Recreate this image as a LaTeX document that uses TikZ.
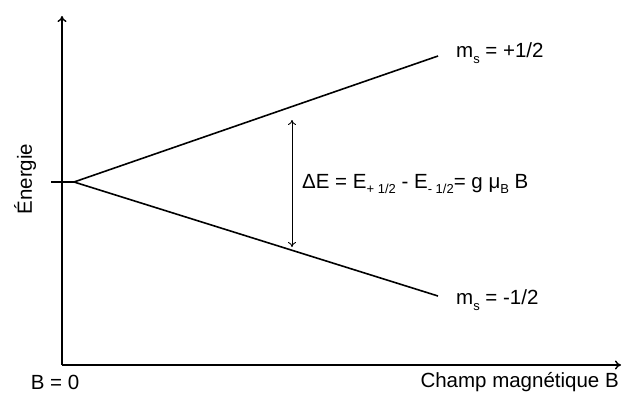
\documentclass[tikz,border=0pt]{standalone}
\usepackage{fontspec}
\setmainfont{Liberation Sans}
\usetikzlibrary{arrows.meta,positioning}
\newcommand{\lowsub}[1]{\raisebox{-0.5ex}{\fontsize{13}{13}\selectfont #1}}

\begin{document}
\begin{tikzpicture}[
        x=1pt, y=-1pt,
        axis/.style={line width=1.4pt, -{To[length=6pt,width=9pt]}},
        level/.style={line width=1.6pt},
        lbl/.style={font=\fontsize{20.5}{24}\selectfont, inner sep=0pt},
        gap/.style={line width=0.9pt, {To[length=5pt,width=8pt]}-{To[length=5pt,width=8pt]}}
    ]
        \useasboundingbox (0,0) rectangle (622,394);

        \coordinate (origin) at (62,365);
        \coordinate (ytop) at (62,16);
        \coordinate (xend) at (621,365);
        \draw[axis] (origin) -- (ytop);
        \draw[axis] (origin) -- (xend);

        \coordinate (tick) at (51,182);
        \coordinate (split) at (74,182);
        \coordinate (up) at (438,56);
        \coordinate (down) at (438,296);
        \draw[level] (tick) -- (split);
        \draw[level] (split) -- (up);
        \draw[level] (split) -- (down);

        \node[lbl, anchor=west] (plus) at (456,53) {m\lowsub{s} = +1/2};
        \node[lbl, anchor=west] (minus) at (456,300) {m\lowsub{s} = -1/2};

        \coordinate (gtop) at (292,120);
        \coordinate (gbot) at (292,247);
        \draw[gap] (gtop) -- (gbot);
        \node[lbl, anchor=west] (delta) at (302,184) {ΔE = E\lowsub{+ 1/2} - E\lowsub{- 1/2}= g μ\lowsub{B} B};

        \node[lbl] (bzero) at (55,382) {B = 0};
        \node[lbl, anchor=east] (champ) at (619,382) {Champ magnétique B};
        \node[lbl, rotate=90] (energie) at (25,179) {Énergie};
    \end{tikzpicture}
\end{document}
